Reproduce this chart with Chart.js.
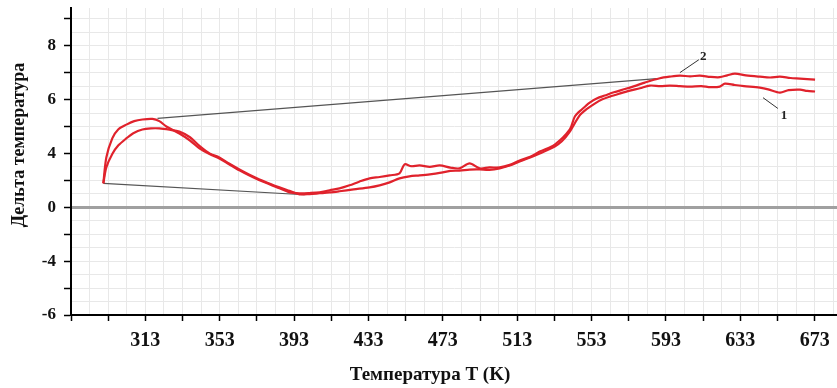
<!DOCTYPE html>
<html>
<head>
<meta charset="utf-8">
<script src="https://cdn.jsdelivr.net/npm/chart.js@4.4.0/dist/chart.umd.min.js"></script>
<style>
html,body{margin:0;padding:0;background:#fff}
#wrap{width:837px;height:388px}
</style>
</head>
<body>
<div id="wrap"><canvas id="myChart" width="837" height="388"></canvas></div>
<script>
// curve 1 (lower at the end)
var temp1=[290.4,292.0,295.2,298.5,302.8,306.5,311.4,316,320.5,326,331.3,337,342.1,347.5,352.8,358,363.6,369,374.4,380,385.1,390.5,395.9,401.3,406.7,412,417.4,425,433.6,439,444.4,449.7,455,460.5,466,471.3,477,482.0,487.4,492.8,498,503.6,509,514.3,520,525.1,533.2,537,541.3,546.6,550.5,554.7,558.5,562.8,568,573.6,579,584.3,590,595.1,600.5,605.9,612,617,622.0,624.7,630,635,643.5,648,654.3,659,665.1,669,673.2];
var delta1=[1.78,2.96,3.96,4.3,4.56,4.75,4.89,4.93,4.93,4.88,4.81,4.6,4.28,4.0,3.70,3.25,2.81,2.42,2.07,1.75,1.48,1.22,0.96,0.98,1.04,1.1,1.19,1.33,1.48,1.63,1.85,2.15,2.3,2.37,2.45,2.55,2.7,2.72,2.8,2.81,2.78,2.89,3.1,3.41,3.7,4.0,4.26,4.45,4.81,5.41,5.65,5.85,6.0,6.11,6.22,6.33,6.42,6.52,6.5,6.52,6.5,6.48,6.5,6.46,6.48,6.59,6.54,6.5,6.44,6.38,6.26,6.35,6.37,6.32,6.30];

// curve 2 (upper at the end)
var temp2=[290.4,292.0,295.2,298.5,302.8,307,311.4,316.8,320.5,324.3,331.3,337,342.1,347.5,352.8,358,363.6,369,374.4,380,385.1,390.5,395.9,401.3,406.7,412.1,417.4,422.8,428,433.6,439,444.4,449.7,452.4,456,460.5,466,471.3,477,482.0,487.4,492.8,498,503.6,509,514.3,520,525.1,533.2,541.3,544.0,548,552.0,556,560.1,565,570.9,576,581.6,589.7,595,600.5,606,611.2,617,622.0,626,630.1,636,643.5,649,654.3,660,665.1,669,673.2];
var delta2=[1.78,3.70,4.56,4.9,5.07,5.2,5.26,5.28,5.2,5.0,4.74,4.48,4.19,3.95,3.63,3.2,2.74,2.35,2.0,1.7,1.41,1.11,1.04,1.06,1.11,1.26,1.4,1.63,1.9,2.15,2.25,2.37,2.52,3.19,3.05,3.11,3.0,3.11,2.95,2.89,3.26,2.89,2.96,2.96,3.15,3.48,3.75,4.07,4.33,4.89,5.37,5.65,5.89,6.05,6.15,6.27,6.39,6.5,6.63,6.79,6.85,6.89,6.86,6.89,6.84,6.83,6.9,6.96,6.9,6.85,6.82,6.85,6.8,6.78,6.76,6.74];

// tangent lines
var topTangentT=[319.5,588];
var topTangentD=[5.30,6.78];
var lowTangentT=[290.4,398.6];
var lowTangentD=[1.78,0.93];

// leader lines and curve numbers
var lead1T=[645.2,653.2], lead1D=[6.07,5.67];
var lead2T=[600.5,610.7], lead2D=[7.0,7.48];
var markText=['1','2'];
var markT=[656.5,613];
var markD=[5.42,7.58];

// axis ticks
var xLabelTicks=[313,353,393,433,473,513,553,593,633,673];
var yLabelTicks=[-6,-4,0,4,6,8];

// the y axis of the picture is not even: 0..4 takes the room of 4..8
function toAxis(v){ return v>=4 ? v-2 : (v>=-4 ? v/2 : v+2); }
function fromAxis(u){ return u>=2 ? u+2 : (u>=-2 ? u*2 : u-2); }

class WarpScale extends Chart.LinearScale {
  getPixelForValue(v){ return super.getPixelForValue(toAxis(v)); }
  getValueForPixel(p){ return fromAxis(super.getValueForPixel(p)); }
}
WarpScale.id='warp';
WarpScale.defaults=Chart.LinearScale.defaults;
Chart.register(WarpScale);

function pts(ts,ds){ return ts.map(function(t,i){ return {x:t,y:ds[i]}; }); }

var serif='"Liberation Serif","Times New Roman",serif';

// curve numbers and axis titles
var textLayer={
  id:'textLayer',
  afterDatasetsDraw:function(chart){
    var c=chart.ctx, sx=chart.scales.x, sy=chart.scales.y;
    c.save();
    c.font='bold 13px '+serif;
    c.fillStyle='#222';
    c.textAlign='center';
    c.textBaseline='middle';
    for(var i=0;i<markText.length;i++){
      c.fillText(markText[i],sx.getPixelForValue(markT[i]),sy.getPixelForValue(markD[i]));
    }
    c.fillStyle='#111';
    c.font='bold 19px '+serif;
    c.fillText("Температура T (K)",430,375);
    c.translate(19,145);
    c.rotate(-Math.PI/2);
    c.font='bold 18px '+serif;
    c.fillText("Дельта температура",0,0);
    c.restore();
  }
};

var ctx=document.getElementById("myChart").getContext("2d");
var chart=new Chart(ctx,{
  type:"line",
  data:{
    datasets:[
      {data:pts(temp1,delta1),borderColor:"#e0222c",borderWidth:2.2,tension:0.3},
      {data:pts(temp2,delta2),borderColor:"#e0222c",borderWidth:2.2,tension:0.3},
      {data:pts(topTangentT,topTangentD),borderColor:"#555",borderWidth:1.2},
      {data:pts(lowTangentT,lowTangentD),borderColor:"#555",borderWidth:1.2},
      {data:pts(lead1T,lead1D),borderColor:"#333",borderWidth:1},
      {data:pts(lead2T,lead2D),borderColor:"#333",borderWidth:1}
    ]
  },
  options:{
    responsive:false,
    animation:false,
    layout:{padding:{top:8,right:0,left:0,bottom:0}},
    elements:{point:{radius:0}},
    plugins:{legend:{display:false},tooltip:{enabled:false}},
    scales:{
      x:{
        type:"linear",
        min:273,max:685,
        afterBuildTicks:function(s){
          var t=[]; for(var v=273;v<=683;v+=10) t.push({value:v}); s.ticks=t;
        },
        afterFit:function(s){ s.height=73; s.paddingLeft=0; s.paddingRight=0; },
        border:{color:"#000",width:2},
        grid:{
          color:"#e8e8e8",lineWidth:1,tickLength:6,tickWidth:1.5,
          tickColor:function(c){ return c.tick && (c.tick.value-273)%20===0 ? "#000" : "rgba(0,0,0,0)"; }
        },
        ticks:{
          autoSkip:false,maxRotation:0,padding:8,color:"#111",
          font:{family:serif,size:20,weight:"bold"},
          callback:function(v){ return xLabelTicks.indexOf(v)>=0 ? String(v) : ""; }
        }
      },
      y:{
        type:"warp",
        min:-4,max:7.4,bounds:"data",
        ticks:{
          stepSize:0.5,padding:8,color:"#111",autoSkip:false,
          font:{family:serif,size:17,weight:"bold"},
          callback:function(v){ return yLabelTicks.indexOf(v)>=0 ? String(v) : ""; }
        },
        afterBuildTicks:function(s){
          var t=[]; for(var u=-4;u<=7;u+=0.5) t.push({value:fromAxis(u)}); s.ticks=t;
        },
        afterFit:function(s){ s.width=71; s.paddingTop=0; s.paddingBottom=0; },
        border:{color:"#000",width:2},
        grid:{
          color:function(c){ return c.tick && c.tick.value===0 ? "#a0a0a0" : "#e8e8e8"; },
          lineWidth:function(c){ return c.tick && c.tick.value===0 ? 3 : 1; },
          tickLength:7,tickWidth:1.5,
          tickColor:function(c){ return c.tick && Number.isInteger(toAxis(c.tick.value)) ? "#000" : "rgba(0,0,0,0)"; }
        }
      }
    }
  },
  plugins:[textLayer]
});
</script>
</body>
</html>
